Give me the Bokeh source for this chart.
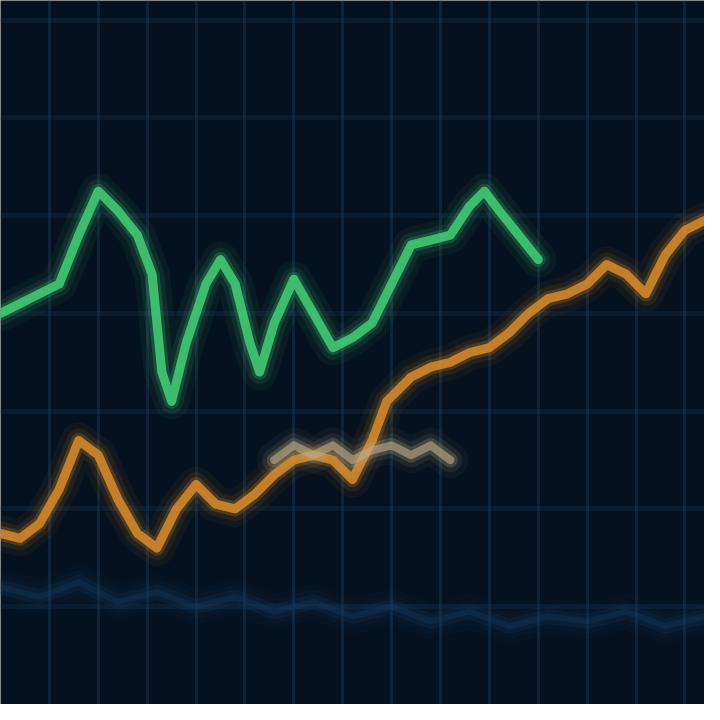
from bokeh.plotting import figure
from bokeh.embed import file_html
from bokeh.resources import INLINE
from bokeh.models import ColumnDataSource

# Green series (day index, price)
green_day = [0, 2, 4, 6, 8, 10, 12, 14, 15.5, 16.5, 17.5, 19, 21, 22.5, 24, 25.5, 26.5, 28, 30, 32, 34, 36, 38, 40, 42, 44, 46, 48, 49.5, 51, 53, 55]
green_price = [400, 410, 420, 430, 480, 525, 505, 480, 440, 340, 310, 370, 430, 455, 430, 370, 340, 390, 435, 400, 365, 375, 390, 430, 470, 475, 480, 510, 525, 505, 480, 455]

# Orange series
orange_day = [0, 2, 4, 6, 8, 10, 12, 14, 16, 18, 20, 22, 24, 26, 28, 30, 32, 34, 36, 38, 39.5, 42, 44, 46, 48, 50, 52, 54, 56, 58, 60, 62, 64, 66, 68, 70, 72]
orange_price = [175, 170, 185, 220, 270, 255, 210, 175, 160, 200, 225, 205, 200, 215, 235, 250, 255, 250, 230, 270, 310, 335, 345, 350, 360, 365, 380, 400, 415, 420, 430, 450, 440, 420, 460, 485, 495]

# Pale series
pale_day = [28, 30, 32, 34, 36, 38, 40, 42, 44, 46]
pale_price = [250, 265, 255, 265, 250, 260, 265, 255, 265, 250]

# Faint blue series (lower area)
blue_day = [0, 4, 8, 12, 16, 20, 24, 28, 32, 36, 40, 44, 48, 52, 56, 60, 64, 68, 72]
blue_price = [120, 110, 125, 105, 115, 100, 110, 95, 105, 90, 100, 85, 95, 80, 90, 85, 95, 80, 90]

p = figure(width=704, height=704, output_backend="svg", toolbar_location=None,
           x_range=(0, 72), y_range=(0, 720), min_border=0)
p.axis.visible = False
p.outline_line_color = None
p.background_fill_color = "#06111f"
p.border_fill_color = "#040a14"
p.xgrid.grid_line_color = "#1f4468"
p.xgrid.grid_line_alpha = 0.35
p.xgrid.grid_line_width = 3
p.ygrid.grid_line_color = "#1a3a5c"
p.ygrid.grid_line_alpha = 0.25
p.ygrid.grid_line_width = 5
p.xaxis.ticker.desired_num_ticks = 16
p.yaxis.ticker.desired_num_ticks = 8

def glow(days, prices, color, core=6, alpha=0.9):
    src = ColumnDataSource(dict(day=days, price=prices))
    for w, a in [(36, 0.05), (24, 0.1), (15, 0.22), (core, alpha)]:
        p.line("day", "price", source=src, line_color=color, line_width=w,
               line_alpha=a, line_join="round", line_cap="round")

glow(blue_day, blue_price, "#173e62", core=6, alpha=0.3)
glow(orange_day, orange_price, "#d98c2b", core=9, alpha=0.85)
glow(pale_day, pale_price, "#bfae88", core=8, alpha=0.6)
glow(green_day, green_price, "#45cf78", core=9, alpha=0.85)

open("out.html", "w").write(file_html(p, INLINE))
